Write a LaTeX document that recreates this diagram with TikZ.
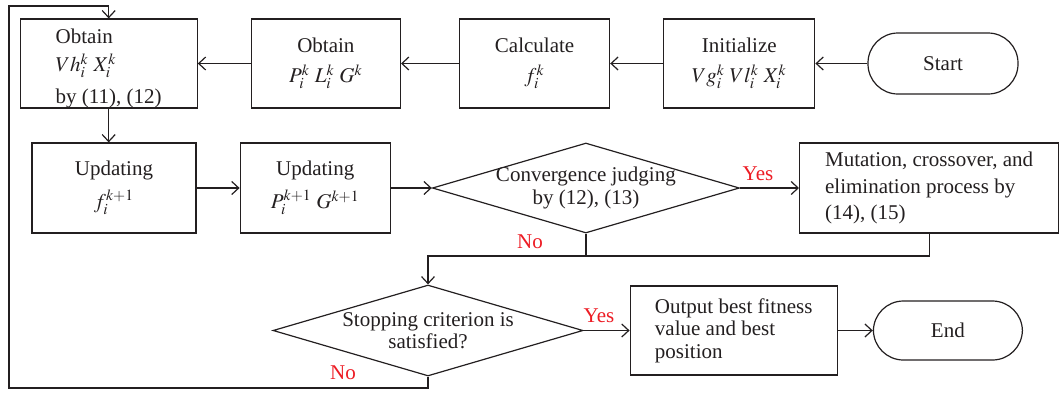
\documentclass[tikz,border=0pt]{standalone}
\usepackage{mathptmx}
\usepackage{fontspec}
\setmainfont{Liberation Serif}
\usetikzlibrary{shapes.geometric, arrows.meta, positioning}

\definecolor{ink}{RGB}{35,31,32}
\definecolor{yesred}{RGB}{237,28,36}

\tikzset{
  block/.style={draw=ink, text=ink, rectangle, align=center, inner sep=0pt},
  decision/.style={draw=ink, text=ink, diamond, aspect=3.4, inner sep=-3pt, align=center},
  terminal/.style={draw=ink, text=ink, rectangle, rounded corners=15pt},
  answer/.style={text=yesred, inner sep=0pt}
}

\begin{document}
\begin{tikzpicture}[x=0.5pt, y=-0.5pt, >={Straight Barb[length=3.5pt,width=6.5pt]}, line width=0.6pt, draw=ink, font=\fontsize{10.5}{11.25}\selectfont]
    \useasboundingbox (0,0) rectangle (1060,392);

    % Nodes, top row (right to left)
    \node[terminal, minimum width=75pt, minimum height=30.5pt] (start) at (943,63.5) {Start};
    \node[block, minimum width=75.5pt, minimum height=44.5pt, left=26pt of start] (init) {Initialize\\[3.75pt] $Vg_i^k\;Vl_i^k\;X_i^k$};
    \node[block, minimum width=75pt, minimum height=44.5pt, left=26.5pt of init] (calc) {Calculate\\[3.75pt] $f_i^k$};
    \node[block, minimum width=74.5pt, minimum height=44.5pt, left=29pt of calc] (obtainP) {Obtain\\[3.75pt] $P_i^k\;L_i^k\;G^k$};
    \node[block, align=left, minimum width=88.5pt, minimum height=44.5pt, left=26.5pt of obtainP] (obtainV) {\rule{0pt}{12pt}Obtain\\[3pt] $Vh_i^k\;X_i^k$\\[4.5pt] by (11), (12)};

    % Nodes, middle row
    \node[block, minimum width=82pt, minimum height=45pt] (updF) at (114,188) {Updating\\[3.75pt] $f_i^{k+1}$};
    \node[block, minimum width=75pt, minimum height=45pt, right=21.5pt of updF] (updP) {Updating\\[3.75pt] $P_i^{k+1}\;G^{k+1}$};
    \node[decision, minimum width=153.5pt, minimum height=45pt, right=20.5pt of updP] (conv) {Convergence judging\\ by (12), (13)};
    \node[block, align=left, minimum width=129.5pt, minimum height=45pt, right=29.5pt of conv] (mut) {Mutation, crossover, and\\[2pt] elimination process by\\[2pt] (14), (15)};

    % Nodes, bottom row
    \node[decision, minimum width=155pt, minimum height=45.5pt] (stop) at (428,330.5) {Stopping criterion is\\ satisfied?};
    \node[block, align=left, minimum width=103.5pt, minimum height=44.5pt, right=23pt of stop] (out) {Output best fitness\\ value and best\\ position};
    \node[terminal, minimum width=74.5pt, minimum height=29.5pt, right=17.5pt of out] (fin) {End};

    % Labels
    \node[answer] (yesA) at (758,174) {Yes};
    \node[answer] (noA) at (530,242) {No};
    \node[answer] (yesB) at (599,316) {Yes};
    \node[answer] (noB) at (343,373) {No};

    % Paths
    \draw[->] (start) -- (init);
    \draw[->] (init) -- (calc);
    \draw[->] (calc) -- (obtainP);
    \draw[->] (obtainP) -- (obtainV);
    \draw[->] (obtainV.south) -- (obtainV.south |- updF.north);
    \draw[->] (updF) -- (updP);
    \draw[->] (updP) -- (conv);
    \draw[->] (conv) -- (mut);

    \coordinate (merge) at (stop.north |- 0,256);
    \draw[->] (conv.south) |- (merge) -- (stop.north);
    \draw (mut.south) |- (merge);
    \draw[->] (stop) -- (out);
    \draw[->] (out) -- (fin);

    % Loop back
    \coordinate (loopA) at (stop.south |- 0,388);
    \coordinate (loopB) at (9,6);
    \draw[->] (stop.south) -- (loopA) -| (loopB) -| (obtainV.north);
\end{tikzpicture}
\end{document}
